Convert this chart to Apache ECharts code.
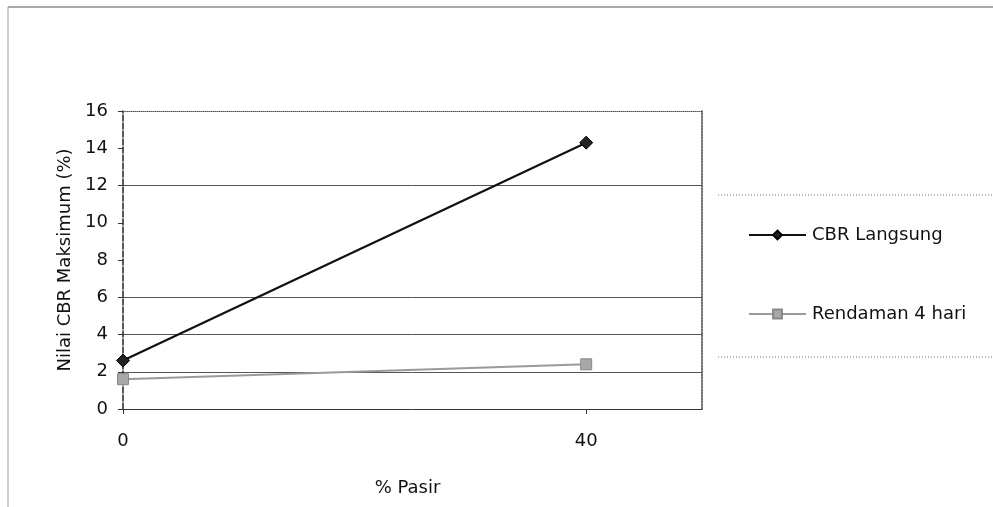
<!DOCTYPE html>
<html>
<head>
<meta charset="utf-8">
<script src="https://cdn.jsdelivr.net/npm/echarts@6/dist/echarts.min.js"></script>
<style>
  html, body { margin: 0; padding: 0; background: #fff; }
  #chart { width: 993px; height: 507px; }
</style>
</head>
<body>
<div id="chart"></div>
<script>
// Sand content (%) on the x axis
const pasir = [0, 40];
// Maximum CBR values (%)
const cbrLangsung = [2.6, 14.3];
const rendaman4Hari = [1.6, 2.4];
const seriesNames = ['CBR Langsung', 'Rendaman 4 hari'];

const FONT = '"DejaVu Sans", "Liberation Sans", Arial, sans-serif';
const FS = 18;
const chart = echarts.init(document.getElementById('chart'));

// grid lines drawn at 2, 4, 6 and 12 only
const gridColors = ['transparent', '#555', '#555', '#555', 'transparent', 'transparent', '#555', 'transparent', 'transparent'];

chart.setOption({
  animation: false,
  backgroundColor: '#fff',
  textStyle: { fontFamily: FONT },
  grid: { left: 123, top: 111, right: 291, bottom: 98, containLabel: false },
  xAxis: [{
    type: 'value', min: 0, max: 50, interval: 40,
    name: '% Pasir', nameLocation: 'middle', nameGap: 70,
    nameTextStyle: { fontSize: FS, color: '#111', fontFamily: FONT, padding: [0, 10, 0, 0] },
    axisLine: { show: true, onZero: false, lineStyle: { color: '#333', width: 1 } },
    axisTick: { show: true, inside: false, length: 5, lineStyle: { color: '#333' } },
    axisLabel: { fontSize: FS, color: '#111', margin: 23, showMaxLabel: false, fontFamily: FONT },
    splitLine: { show: false }
  }, {
    type: 'value', min: 0, max: 50, position: 'top',
    axisLine: { show: true, onZero: false, lineStyle: { color: '#555', width: 1, type: [1, 1] } },
    axisTick: { show: false }, axisLabel: { show: false }, splitLine: { show: false }
  }],
  yAxis: [{
    type: 'value', min: 0, max: 16, interval: 2,
    name: 'Nilai CBR Maksimum (%)', nameLocation: 'middle', nameGap: 48,
    nameTextStyle: { fontSize: FS, color: '#111', fontFamily: FONT },
    axisLine: { show: true, onZero: false, lineStyle: { color: '#222', width: 1.5, type: [6, 2] } },
    axisTick: { show: true, inside: false, length: 5, lineStyle: { color: '#333' } },
    axisLabel: { fontSize: FS, color: '#111', margin: 15, fontFamily: FONT },
    splitLine: { show: true, lineStyle: { color: gridColors, width: 1 } }
  }, {
    type: 'value', min: 0, max: 16, position: 'right',
    axisLine: { show: true, onZero: false, lineStyle: { color: '#444', width: 1.5, type: [2, 1] } },
    axisTick: { show: false }, axisLabel: { show: false }, splitLine: { show: false }
  }],
  legend: {
    orient: 'vertical', left: 743, top: 221, itemGap: 61,
    itemWidth: 57, itemHeight: 11,
    data: seriesNames,
    textStyle: { fontSize: FS, color: '#111', fontFamily: FONT, padding: [0, 0, 0, 1] }
  },
  graphic: [
    { type: 'line', shape: { x1: 8, y1: 7, x2: 993, y2: 7 }, style: { stroke: '#555', lineWidth: 1.2 } },
    { type: 'line', shape: { x1: 8, y1: 7, x2: 8, y2: 507 }, style: { stroke: '#999', lineWidth: 1 } },
    { type: 'line', shape: { x1: 718, y1: 195, x2: 993, y2: 195 }, style: { stroke: '#777', lineWidth: 1, lineDash: [1, 2] } },
    { type: 'line', shape: { x1: 718, y1: 357, x2: 993, y2: 357 }, style: { stroke: '#777', lineWidth: 1, lineDash: [1, 2] } }
  ],
  series: [{
    name: seriesNames[0], type: 'line',
    data: pasir.map((x, i) => [x, cbrLangsung[i]]),
    symbol: 'diamond', symbolSize: 13,
    lineStyle: { color: '#111', width: 2.2 },
    itemStyle: { color: '#222', borderColor: '#000', borderWidth: 1 },
    z: 3
  }, {
    name: seriesNames[1], type: 'line',
    data: pasir.map((x, i) => [x, rendaman4Hari[i]]),
    symbol: 'rect', symbolSize: 11,
    lineStyle: { color: '#9a9a9a', width: 2 },
    itemStyle: { color: '#a8a8a8', borderColor: '#888', borderWidth: 1 },
    z: 2
  }]
});
</script>
</body>
</html>
